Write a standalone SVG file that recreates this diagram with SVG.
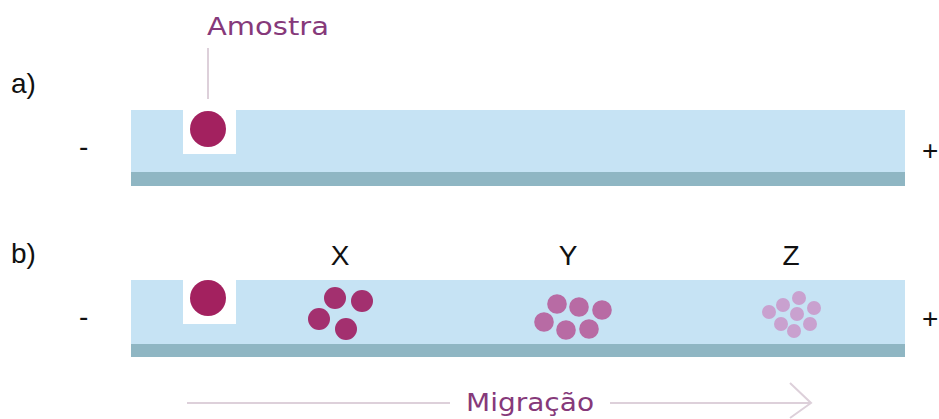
<svg xmlns="http://www.w3.org/2000/svg" width="939" height="419" viewBox="0 0 939 419">
  <style>
    .lbl { font-family: "Liberation Sans", Arial, sans-serif; font-size: 28px; fill: #111; }
    .cap { font-family: "DejaVu Sans", "Open Sans", sans-serif; fill: #86397a; }
    .gel { fill: #c6e3f4; }
    .base { fill: #8fb6c3; }
    .well { fill: #ffffff; }
    .sample { fill: #a3215f; }
    .bx { fill: #a3306f; }
    .by { fill: #b86ba4; }
    .bz { fill: #c9a1cf; }
    .thin { stroke: #ddd0da; stroke-width: 2; fill: none; }
  </style>

  <!-- panel a: gel strip with sample well -->
  <g id="panel-a">
    <text class="lbl" x="11" y="93">a)</text>
    <text class="lbl" x="79" y="156">-</text>
    <text class="lbl" x="922" y="160">+</text>
    <rect class="gel" x="131" y="110" width="774" height="63"/>
    <rect class="base" x="131" y="172" width="774" height="14"/>
    <rect class="well" x="183" y="110" width="53" height="44"/>
    <circle class="sample" cx="208" cy="129" r="18"/>
  </g>

  <g id="label-amostra">
    <text class="cap" x="207" y="35" font-size="24" textLength="122" lengthAdjust="spacingAndGlyphs">Amostra</text>
  </g>

  <!-- panel b: separated bands after the run -->
  <g id="panel-b">
    <text class="lbl" x="11" y="263">b)</text>
    <text class="lbl" x="79" y="326">-</text>
    <text class="lbl" x="922" y="328">+</text>
    <rect class="gel" x="131" y="280" width="774" height="65"/>
    <rect class="base" x="131" y="344" width="774" height="13"/>
    <rect class="well" x="183" y="280" width="53" height="44"/>
    <circle class="sample" cx="208" cy="298" r="18"/>
  </g>

  <g id="band-x">
    <text class="lbl" x="340" y="265" text-anchor="middle" font-size="29">X</text>
    <circle class="bx" cx="335" cy="298" r="11"/>
    <circle class="bx" cx="362" cy="301" r="11"/>
    <circle class="bx" cx="319" cy="319" r="11"/>
    <circle class="bx" cx="346" cy="329" r="11"/>
  </g>

  <g id="band-y">
    <text class="lbl" x="568" y="265" text-anchor="middle" font-size="29">Y</text>
    <circle class="by" cx="557" cy="304" r="9.8"/>
    <circle class="by" cx="579" cy="307" r="9.8"/>
    <circle class="by" cx="602" cy="310" r="9.8"/>
    <circle class="by" cx="544" cy="322" r="9.8"/>
    <circle class="by" cx="566" cy="330" r="9.8"/>
    <circle class="by" cx="589" cy="329" r="9.8"/>
  </g>

  <g id="band-z">
    <text class="lbl" x="791" y="265" text-anchor="middle" font-size="29">Z</text>
    <circle class="bz" cx="799" cy="298" r="7"/>
    <circle class="bz" cx="783" cy="305" r="7"/>
    <circle class="bz" cx="814" cy="308" r="7"/>
    <circle class="bz" cx="769" cy="312" r="7"/>
    <circle class="bz" cx="797" cy="314" r="7"/>
    <circle class="bz" cx="781" cy="324" r="7"/>
    <circle class="bz" cx="810" cy="324" r="7"/>
    <circle class="bz" cx="794" cy="331" r="7"/>
  </g>

  <!-- leader line and migration arrow -->
  <g id="connectors">
    <line class="thin" x1="208" y1="48" x2="208" y2="99" stroke-width="1.5"/>
    <line class="thin" x1="187" y1="403" x2="450" y2="403"/>
    <line class="thin" x1="610" y1="403" x2="811" y2="403"/>
    <polyline class="thin" points="790,383 811,403 790,418"/>
  </g>

  <g id="label-migracao">
    <text class="cap" x="466" y="411" font-size="25" textLength="128" lengthAdjust="spacingAndGlyphs">Migração</text>
  </g>
</svg>
